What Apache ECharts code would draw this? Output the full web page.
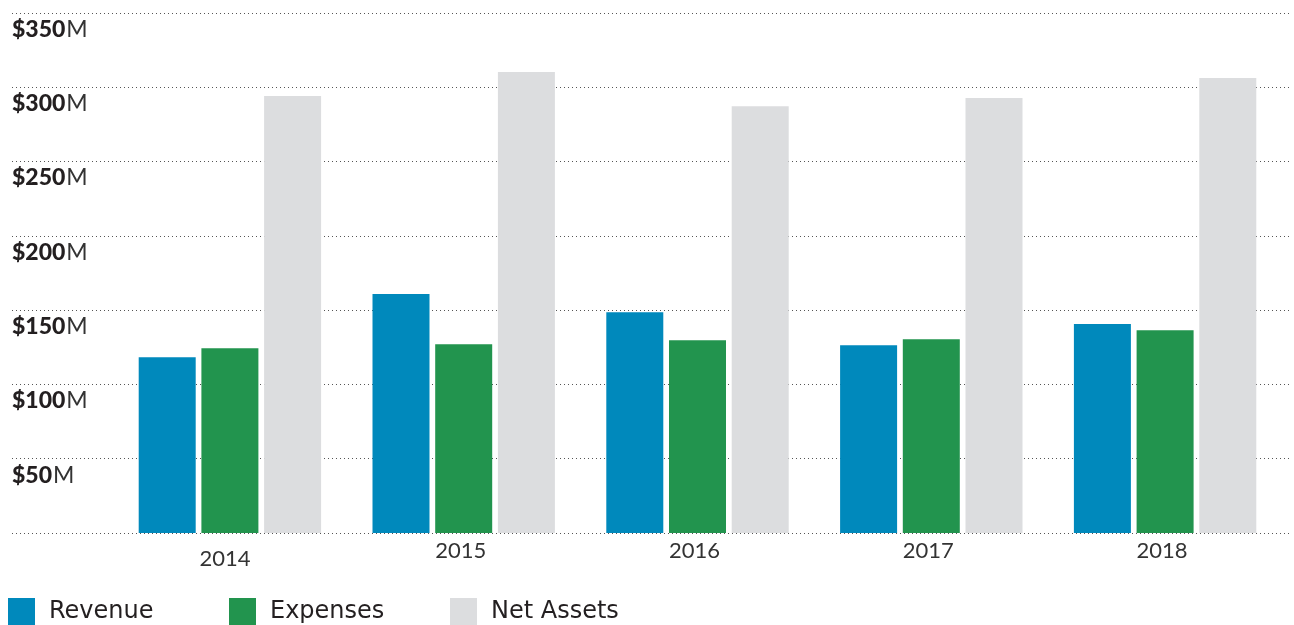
<!DOCTYPE html>
<html>
<head>
<meta charset="utf-8">
<script src="https://cdn.jsdelivr.net/npm/echarts@6/dist/echarts.min.js"></script>
<style>
html,body{margin:0;padding:0;background:#fff;}
#chart{width:1294px;height:625px;}
</style>
</head>
<body>
<div id="chart"></div>
<script>
const categories = ['2014', '2015', '2016', '2017', '2018'];
const revenue = [118.3, 160.8, 148.6, 126.4, 140.6];
const expenses = [124.4, 127.1, 129.8, 130.4, 136.5];
const netAssets = [294.1, 310.3, 287.3, 292.8, 306.3];
const seriesNames = ['Revenue', 'Expenses', 'Net Assets'];
const colors = ['#0089bc', '#22944e', '#dcdddf'];
const yMin = 0, yMax = 350, yStep = 50;

const chart = echarts.init(document.getElementById('chart'));

function legendFor(i, left) {
  return {
    data: [seriesNames[i]],
    left: left,
    top: 598,
    padding: 0,
    itemWidth: 27,
    itemHeight: 27,
    itemGap: 0,
    icon: 'rect',
    textStyle: {
      fontFamily: 'DejaVu Sans',
      fontSize: 24,
      color: '#231f20',
      padding: [5, 0, 0, 9]
    },
    selectedMode: false
  };
}

const option = {
  animation: false,
  color: colors,
  legend: [legendFor(0, 8), legendFor(1, 229), legendFor(2, 450)],
  grid: [
    { left: 12, right: 4, top: 13, bottom: 92 },
    { left: 113, right: 12, top: 13, bottom: 92 }
  ],
  xAxis: [
    { type: 'category', gridIndex: 0, data: categories, show: false },
    {
      type: 'category', gridIndex: 1, data: categories,
      axisLine: { show: false }, axisTick: { show: false },
      axisLabel: {
        margin: 7,
        fontFamily: 'Lato',
        fontSize: 22,
        color: '#333333',
        formatter: function (v) { return v === '2014' ? '{low|' + v + '}' : '{n|' + v + '}'; },
        rich: {
          low: { fontFamily: 'Lato', fontSize: 22, color: '#333333', padding: [8, 10, 0, 0] },
          n: { fontFamily: 'Lato', fontSize: 22, color: '#333333', padding: [0, 6, 0, 0] }
        }
      }
    }
  ],
  yAxis: [
    {
      type: 'value', gridIndex: 0, min: yMin, max: yMax, interval: yStep,
      axisLine: { show: false }, axisTick: { show: false },
      splitLine: { lineStyle: { type: [1, 3], color: '#555555', width: 1 } },
      axisLabel: {
        inside: true,
        margin: 0,
        verticalAlign: 'top',
        padding: [5, 0, 0, 0],
        formatter: function (v) { return v === 0 ? '' : '{b|$' + v + '}{m|M}'; },
        rich: {
          b: { fontFamily: 'Lato', fontWeight: 900, fontSize: 23, color: '#231f20' },
          m: { fontFamily: 'Lato', fontWeight: 400, fontSize: 23, color: '#333333', padding: [0, 0, 0, 1] }
        }
      }
    },
    {
      type: 'value', gridIndex: 1, min: yMin, max: yMax, interval: yStep,
      show: false, splitLine: { show: false }
    }
  ],
  series: [
    { name: seriesNames[0], type: 'bar', xAxisIndex: 1, yAxisIndex: 1, data: revenue, barWidth: 57, barGap: '10%', itemStyle: { color: colors[0] } },
    { name: seriesNames[1], type: 'bar', xAxisIndex: 1, yAxisIndex: 1, data: expenses, barWidth: 57, barGap: '10%', itemStyle: { color: colors[1] } },
    { name: seriesNames[2], type: 'bar', xAxisIndex: 1, yAxisIndex: 1, data: netAssets, barWidth: 57, barGap: '10%', itemStyle: { color: colors[2] } }
  ]
};
chart.setOption(option);
</script>
</body>
</html>
